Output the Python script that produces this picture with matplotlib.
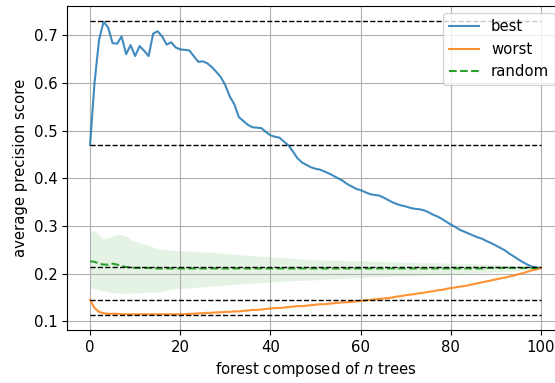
import matplotlib
matplotlib.use('Agg')
import matplotlib.pyplot as plt
import numpy as np

n_trees = np.arange(101)

best = [0.470, 0.600, 0.690, 0.728, 0.716, 0.683, 0.682, 0.697, 0.660, 0.679,
        0.656, 0.677, 0.667, 0.656, 0.703, 0.708, 0.697, 0.680, 0.685, 0.674,
        0.670, 0.669, 0.668, 0.656, 0.644, 0.645, 0.641, 0.633, 0.623, 0.612,
        0.595, 0.571, 0.555, 0.528, 0.520, 0.512, 0.507, 0.506, 0.505, 0.497,
        0.490, 0.487, 0.485, 0.477, 0.469, 0.456, 0.442, 0.433, 0.428, 0.423,
        0.420, 0.418, 0.414, 0.410, 0.405, 0.400, 0.395, 0.388, 0.383, 0.378,
        0.375, 0.371, 0.367, 0.365, 0.364, 0.360, 0.355, 0.350, 0.346, 0.343,
        0.341, 0.338, 0.336, 0.335, 0.333, 0.329, 0.324, 0.320, 0.315, 0.309,
        0.303, 0.298, 0.292, 0.288, 0.284, 0.280, 0.276, 0.273, 0.268, 0.264,
        0.259, 0.254, 0.249, 0.242, 0.236, 0.230, 0.224, 0.219, 0.215, 0.213,
        0.212]

worst = [0.145, 0.128, 0.120, 0.117, 0.116, 0.116, 0.116, 0.115, 0.115, 0.115,
         0.115, 0.115, 0.115, 0.115, 0.115, 0.115, 0.115, 0.115, 0.115, 0.115,
         0.115, 0.115, 0.116, 0.116, 0.117, 0.117, 0.118, 0.118, 0.119, 0.119,
         0.120, 0.120, 0.121, 0.121, 0.122, 0.123, 0.124, 0.124, 0.125, 0.126,
         0.127, 0.128, 0.128, 0.129, 0.130, 0.131, 0.132, 0.132, 0.133, 0.134,
         0.135, 0.136, 0.136, 0.137, 0.138, 0.139, 0.140, 0.140, 0.141, 0.142,
         0.143, 0.144, 0.145, 0.146, 0.147, 0.148, 0.149, 0.150, 0.152, 0.153,
         0.155, 0.156, 0.157, 0.159, 0.160, 0.162, 0.163, 0.165, 0.166, 0.168,
         0.170, 0.171, 0.173, 0.174, 0.176, 0.178, 0.180, 0.182, 0.184, 0.186,
         0.188, 0.190, 0.192, 0.194, 0.196, 0.199, 0.201, 0.204, 0.207, 0.209,
         0.212]

random_mean = [0.226, 0.225, 0.221, 0.219, 0.219, 0.221, 0.219, 0.216, 0.214, 0.213,
               0.212, 0.212, 0.212, 0.212, 0.211, 0.211, 0.211, 0.211, 0.211, 0.211,
               0.211, 0.211, 0.211, 0.211, 0.211, 0.211, 0.211, 0.211, 0.211, 0.211,
               0.211, 0.211, 0.211, 0.211, 0.211, 0.211, 0.211, 0.211, 0.211, 0.211,
               0.211, 0.211, 0.211, 0.211, 0.211, 0.211, 0.211, 0.211, 0.211, 0.211,
               0.211, 0.211, 0.211, 0.211, 0.211, 0.211, 0.211, 0.211, 0.211, 0.211,
               0.211, 0.211, 0.211, 0.211, 0.211, 0.211, 0.211, 0.211, 0.211, 0.211,
               0.211, 0.211, 0.211, 0.211, 0.211, 0.211, 0.211, 0.211, 0.211, 0.211,
               0.211, 0.211, 0.211, 0.211, 0.211, 0.211, 0.211, 0.211, 0.212, 0.212,
               0.212, 0.212, 0.212, 0.212, 0.212, 0.212, 0.212, 0.212, 0.212, 0.212,
               0.212]

random_upper = [0.287, 0.290, 0.282, 0.272, 0.276, 0.280, 0.283, 0.282, 0.278, 0.272,
                0.268, 0.265, 0.262, 0.259, 0.256, 0.253, 0.251, 0.250, 0.249, 0.249,
                0.248, 0.248, 0.247, 0.247, 0.246, 0.246, 0.245, 0.245, 0.244, 0.243,
                0.242, 0.242, 0.241, 0.240, 0.239, 0.239, 0.238, 0.237, 0.236, 0.236,
                0.235, 0.235, 0.234, 0.234, 0.233, 0.232, 0.232, 0.231, 0.230, 0.230,
                0.229, 0.229, 0.229, 0.228, 0.228, 0.228, 0.228, 0.227, 0.227, 0.227,
                0.227, 0.227, 0.226, 0.226, 0.226, 0.226, 0.225, 0.225, 0.225, 0.224,
                0.224, 0.224, 0.224, 0.223, 0.223, 0.223, 0.223, 0.223, 0.222, 0.222,
                0.222, 0.222, 0.221, 0.221, 0.221, 0.221, 0.220, 0.220, 0.220, 0.219,
                0.219, 0.219, 0.218, 0.218, 0.217, 0.217, 0.216, 0.215, 0.214, 0.214,
                0.213]

random_lower = [0.172, 0.168, 0.166, 0.164, 0.162, 0.161, 0.160, 0.159, 0.159, 0.159,
                0.160, 0.160, 0.161, 0.161, 0.161, 0.162, 0.163, 0.165, 0.167, 0.168,
                0.169, 0.170, 0.170, 0.171, 0.172, 0.172, 0.173, 0.174, 0.175, 0.175,
                0.176, 0.177, 0.177, 0.178, 0.179, 0.179, 0.180, 0.181, 0.182, 0.182,
                0.183, 0.183, 0.184, 0.184, 0.185, 0.185, 0.186, 0.186, 0.186, 0.187,
                0.187, 0.188, 0.188, 0.189, 0.189, 0.190, 0.190, 0.191, 0.191, 0.192,
                0.192, 0.192, 0.193, 0.193, 0.193, 0.194, 0.194, 0.195, 0.195, 0.195,
                0.196, 0.196, 0.196, 0.197, 0.197, 0.197, 0.198, 0.198, 0.199, 0.199,
                0.200, 0.200, 0.200, 0.201, 0.201, 0.202, 0.202, 0.202, 0.203, 0.203,
                0.204, 0.204, 0.205, 0.205, 0.206, 0.207, 0.207, 0.208, 0.209, 0.210,
                0.211]

# reference levels: best start / max, random end, worst start / min
ref_levels = [0.729, 0.470, 0.213, 0.145, 0.114]

plt.rcParams['font.size'] = 10.7

fig = plt.figure(figsize=(5.55, 3.83), dpi=100)
ax = fig.add_axes([0.1216, 0.1384, 0.8937, 0.846])

ax.plot(n_trees, best, color='tab:blue', alpha=0.85, lw=1.5, label='best')
ax.plot(n_trees, worst, color='tab:orange', alpha=0.85, lw=1.5, label='worst')
ax.plot(n_trees, random_mean, color='tab:green', ls='--', lw=1.5, label='random')
ax.fill_between(n_trees, random_lower, random_upper, color='tab:green', alpha=0.12, lw=0)
ax.hlines(ref_levels, 0, 100, colors='k', linestyles='--', lw=1)

ax.set_xlim(-5, 105)
ax.set_ylim(0.082, 0.761)
ax.set_xticks([0, 20, 40, 60, 80, 100])
ax.grid(True)
ax.set_xlabel('forest composed of $n$ trees')
ax.set_ylabel('average precision score')
ax.legend(loc='upper right', bbox_to_anchor=(0.998, 1.0))

fig.savefig('out.png', dpi=100)
